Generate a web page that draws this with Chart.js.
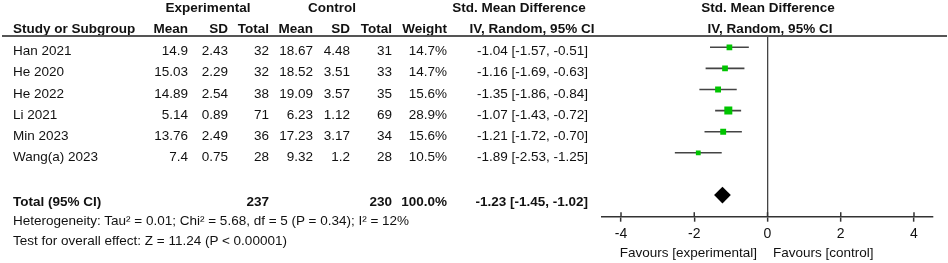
<!DOCTYPE html>
<html>
<head>
<meta charset="utf-8">
<script src="https://cdn.jsdelivr.net/npm/chart.js@4.4.1/dist/chart.umd.min.js"></script>
<style>
  body { margin: 0; background: #fff; }
  #wrap { position: relative; width: 948px; height: 263px; overflow: hidden; font-family: "Liberation Sans", Arial, sans-serif; font-size: 13.5px; color: #111; }
  #wrap canvas { position: absolute; left: 0; top: 0; }
  .t { position: absolute; white-space: nowrap; line-height: 16px; }
  .b { font-weight: bold; }
</style>
</head>
<body>
<div id="wrap">
  <canvas id="forest" width="948" height="263"></canvas>
</div>
<script>
// study rows
const studies = ['Han 2021', 'He 2020', 'He 2022', 'Li 2021', 'Min 2023', 'Wang(a) 2023'];
const expMean = [14.9, 15.03, 14.89, 5.14, 13.76, 7.4];
const expSD = [2.43, 2.29, 2.54, 0.89, 2.49, 0.75];
const expN = [32, 32, 38, 71, 36, 28];
const ctlMean = [18.67, 18.52, 19.09, 6.23, 17.23, 9.32];
const ctlSD = [4.48, 3.51, 3.57, 1.12, 3.17, 1.2];
const ctlN = [31, 33, 35, 69, 34, 28];
const weight = [14.7, 14.7, 15.6, 28.9, 15.6, 10.5];
const smd = [-1.04, -1.16, -1.35, -1.07, -1.21, -1.89];
const ciLow = [-1.57, -1.69, -1.86, -1.43, -1.72, -2.53];
const ciHigh = [-0.51, -0.63, -0.84, -0.72, -0.70, -1.25];

// pooled
const totalExpN = 237;
const totalCtlN = 230;
const totalWeight = 100.0;
const totalSmd = -1.23;
const totalLow = -1.45;
const totalHigh = -1.02;

const xTicks = [-4, -2, 0, 2, 4];

const wrap = document.getElementById('wrap');
function addText(txt, x, y, align, bold) {
  const d = document.createElement('div');
  d.className = 't' + (bold ? ' b' : '');
  d.textContent = txt;
  d.style.top = (y - 8) + 'px';
  d.style.left = x + 'px';
  if (align === 'right') d.style.transform = 'translateX(-100%)';
  if (align === 'center') d.style.transform = 'translateX(-50%)';
  wrap.appendChild(d);
}
const ci = (e, l, h) => e.toFixed(2) + ' [' + l.toFixed(2) + ', ' + h.toFixed(2) + ']';

// squares: area ~ weight, largest side 8px
const maxW = Math.max(...weight);
const sqRadius = weight.map(w => (4 * Math.sqrt(w / maxW)) / Math.SQRT1_2);

const ciSets = studies.map((s, i) => ({
  type: 'line',
  data: [{ x: ciLow[i], y: i }, { x: ciHigh[i], y: i }],
  borderColor: '#444',
  borderWidth: 1.6,
  pointRadius: 0,
  order: 2
}));

const tickMarks = {
  id: 'tickMarks',
  afterDraw(chart) {
    const c = chart.ctx, xs = chart.scales.x, yb = chart.chartArea.bottom;
    c.save();
    c.strokeStyle = '#333';
    c.lineWidth = 1.5;
    xTicks.forEach(v => {
      const px = xs.getPixelForValue(v);
      c.beginPath();
      c.moveTo(px, yb - 4.5);
      c.lineTo(px, yb);
      c.stroke();
    });
    c.restore();
  }
};

const chart = new Chart(document.getElementById('forest'), {
  type: 'scatter',
  data: {
    datasets: [
      {
        data: smd.map((v, i) => ({ x: v, y: i })),
        pointStyle: 'rect',
        pointRadius: sqRadius,
        backgroundColor: '#00c400',
        borderWidth: 0,
        order: 1
      },
      {
        data: [{ x: totalSmd, y: studies.length + 1 }],
        pointStyle: 'rectRot',
        pointRadius: (totalHigh - totalLow) * 36.6 / 2 + 0.5,
        backgroundColor: '#000',
        borderWidth: 0,
        order: 0
      },
      ...ciSets
    ]
  },
  options: {
    responsive: false,
    animation: false,
    events: [],
    layout: { padding: { left: 602, right: 15, top: 36, bottom: 0 } },
    plugins: { legend: { display: false }, tooltip: { enabled: false } },
    scales: {
      x: {
        type: 'linear',
        min: -4.519,
        max: 4.519,
        afterBuildTicks: s => { s.ticks = xTicks.map(v => ({ value: v })); },
        afterFit: s => { s.height = 46.3; },
        border: { color: '#333', width: 1.5 },
        grid: {
          color: c => (c.tick && c.tick.value === 0 ? '#444' : 'rgba(0,0,0,0)'),
          lineWidth: 1.3,
          tickColor: '#333',
          tickLength: 5,
          tickWidth: 1.5
        },
        ticks: {
          color: '#111',
          padding: 4,
          font: { family: '"Liberation Sans", Arial, sans-serif', size: 14 },
          callback: v => String(v)
        }
      },
      y: {
        type: 'linear',
        display: false,
        reverse: true,
        min: -0.536,
        max: 8.028
      }
    }
  },
  plugins: [tickMarks]
});

// table text tied to the chart's row scale
const ys = chart.scales.y;
const colRight = [188, 228, 269, 313, 350, 392, 447, 588];

addText('Experimental', 208, 7.5, 'center', true);
addText('Control', 332, 7.5, 'center', true);
addText('Std. Mean Difference', 519, 7.5, 'center', true);
addText('Std. Mean Difference', 768, 7.5, 'center', true);
addText('Study or Subgroup', 13, 29, 'left', true);
['Mean', 'SD', 'Total', 'Mean', 'SD', 'Total', 'Weight'].forEach((h, k) => addText(h, colRight[k], 29, 'right', true));
addText('IV, Random, 95% CI', 532, 29, 'center', true);
addText('IV, Random, 95% CI', 770, 29, 'center', true);

const hl = document.createElement('div');
hl.style.cssText = 'position:absolute;left:2px;top:35px;width:945px;height:1.5px;background:#555;';
wrap.appendChild(hl);

studies.forEach((s, i) => {
  const y = ys.getPixelForValue(i) + 4;
  addText(s, 13, y, 'left', false);
  const cells = [String(expMean[i]), String(expSD[i]), String(expN[i]), String(ctlMean[i]), String(ctlSD[i]),
    String(ctlN[i]), weight[i].toFixed(1) + '%', ci(smd[i], ciLow[i], ciHigh[i])];
  cells.forEach((c, k) => addText(c, colRight[k], y, 'right', false));
});

const yt = ys.getPixelForValue(studies.length + 1) + 6.5;
addText('Total (95% CI)', 13, yt, 'left', true);
addText(String(totalExpN), colRight[2], yt, 'right', true);
addText(String(totalCtlN), colRight[5], yt, 'right', true);
addText(totalWeight.toFixed(1) + '%', colRight[6], yt, 'right', true);
addText(ci(totalSmd, totalLow, totalHigh), colRight[7], yt, 'right', true);

addText('Heterogeneity: Tau² = 0.01; Chi² = 5.68, df = 5 (P = 0.34); I² = 12%', 13, 220.7, 'left', false);
addText('Test for overall effect: Z = 11.24 (P < 0.00001)', 13, 241.3, 'left', false);

addText('Favours [experimental]', 757, 252.7, 'right', false);
addText('Favours [control]', 773, 252.7, 'left', false);
</script>
</body>
</html>
